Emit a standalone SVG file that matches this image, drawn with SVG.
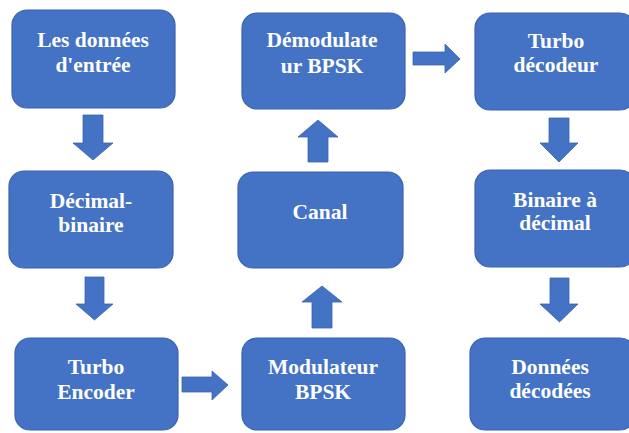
<svg xmlns="http://www.w3.org/2000/svg" width="629" height="433" viewBox="0 0 629 433">
  <style>
    .box { fill: #4472C4; stroke: #3A63AE; stroke-width: 1.2; }
    .arrow { fill: #4472C4; stroke: #3A63AE; stroke-width: 0.8; }
    .label { fill: #ffffff; font-weight: bold; font-size: 21.5px; text-anchor: middle; }
  </style>
  <rect width="629" height="433" fill="#ffffff"/>

  <g font-family="'Liberation Serif', 'Times New Roman', 'DejaVu Serif', serif">
  <g id="n-donnees-entree">
    <rect class="box" x="12" y="10" width="163" height="98" rx="15"/>
    <text class="label" x="93" y="47">Les données</text>
    <text class="label" x="93" y="72">d'entrée</text>
  </g>
  <g id="n-decimal-binaire">
    <rect class="box" x="9" y="171" width="164" height="97" rx="15"/>
    <text class="label" x="91" y="208">Décimal-</text>
    <text class="label" x="91" y="232">binaire</text>
  </g>
  <g id="n-turbo-encoder">
    <rect class="box" x="15" y="338" width="163" height="92" rx="15"/>
    <text class="label" x="96" y="374">Turbo</text>
    <text class="label" x="96" y="399">Encoder</text>
  </g>
  <g id="n-modulateur">
    <rect class="box" x="242" y="338" width="163" height="92" rx="15"/>
    <text class="label" x="323" y="374">Modulateur</text>
    <text class="label" x="323" y="399">BPSK</text>
  </g>
  <g id="n-canal">
    <rect class="box" x="238" y="172" width="165" height="96" rx="15"/>
    <text class="label" x="320" y="219">Canal</text>
  </g>
  <g id="n-demodulateur">
    <rect class="box" x="242" y="13" width="163" height="96" rx="15"/>
    <text class="label" x="322" y="47">Démodulate</text>
    <text class="label" x="322" y="73">ur BPSK</text>
  </g>
  <g id="n-turbo-decodeur">
    <rect class="box" x="475" y="13" width="160" height="97" rx="15"/>
    <text class="label" x="556" y="48">Turbo</text>
    <text class="label" x="556" y="72">décodeur</text>
  </g>
  <g id="n-binaire-decimal">
    <rect class="box" x="475" y="170" width="160" height="97" rx="15"/>
    <text class="label" x="555" y="207">Binaire à</text>
    <text class="label" x="555" y="230">décimal</text>
  </g>
  <g id="n-donnees-decodees">
    <rect class="box" x="470" y="338" width="165" height="92" rx="15"/>
    <text class="label" x="550" y="374">Données</text>
    <text class="label" x="550" y="398">décodées</text>
  </g>
  </g>

  <g id="connectors">
    <!-- left column, downward -->
    <polygon class="arrow" points="83,115 103,115 103,143 113,143 93,160 73,143 83,143"/>
    <polygon class="arrow" points="85,277 104,277 104,304 113,304 94.5,320 76,304 85,304"/>
    <!-- encoder to modulator -->
    <polygon class="arrow" points="182,377 212,377 212,371 228,385 212,400 212,392 182,392"/>
    <!-- centre column, upward -->
    <polygon class="arrow" points="312,328 332,328 332,302 342,302 322,286 302,302 312,302"/>
    <polygon class="arrow" points="308,162 328,162 328,137 338,137 318,120 298,137 308,137"/>
    <!-- demodulator to decoder -->
    <polygon class="arrow" points="413,52 445,52 445,44 460,59 445,73 445,65 413,65"/>
    <!-- right column, downward -->
    <polygon class="arrow" points="549,118 569,118 569,143 578,143 559,162 540,143 549,143"/>
    <polygon class="arrow" points="550,278 569,278 569,304 578,304 559.5,322 540,304 550,304"/>
  </g>
</svg>
